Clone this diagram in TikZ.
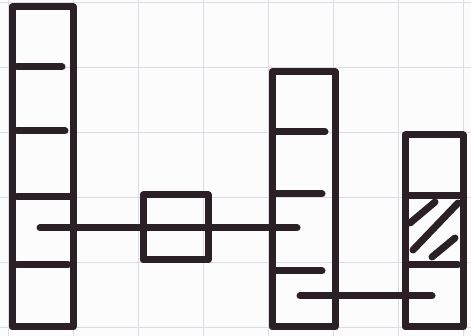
\documentclass[tikz,border=0pt]{standalone}
\begin{document}
\begin{tikzpicture}[x=1pt,y=-1pt,
  ink/.style={draw=inkc,line width=7pt,line cap=round,line join=round},
  barbox/.style={ink,rectangle,inner sep=0pt,outer sep=0pt},
  tick/.style={ink},
  gridl/.style={draw=gridc,line width=0.9pt}]
\definecolor{inkc}{HTML}{2B2026}
\definecolor{gridc}{HTML}{DCDCE4}
\definecolor{paper}{HTML}{FCFCFC}
\fill[paper] (0,0) rectangle (471,336);
\useasboundingbox (0,0) rectangle (471,336);
% grid
\foreach \gx in {8,73,138,203,268,333,398,463} \draw[gridl] (\gx,0) -- (\gx,336);
\foreach \gy in {2,67,132,197,262,327} \draw[gridl] (0,\gy) -- (471,\gy);
% boxes
\node[barbox,minimum width=61pt,minimum height=320pt] (bar1) at (42.5,167) {};
\node[barbox,minimum width=65pt,minimum height=65pt] (box2) at (175.5,227.5) {};
\node[barbox,minimum width=63pt,minimum height=255pt] (bar3) at (303.5,199.5) {};
\node[barbox,minimum width=58pt,minimum height=192pt] (bar4) at (434,231) {};
% ticks bar1
\draw[tick] (17,67) -- (62,67);
\draw[tick] (17,131) -- (65,131);
\draw[tick] (17,197) -- (72,197);
\draw[tick] (17,265) -- (68,265);
% ticks bar3
\draw[tick] (276,132) -- (325,132);
\draw[tick] (276,194) -- (322,194);
\draw[tick] (276,271) -- (322,271);
% ticks bar4
\draw[tick] (409,196) -- (460,196);
\draw[tick] (409,265) -- (458,265);
% hatching
\draw[tick] (410,223) -- (435,202);
\draw[tick] (413,250) -- (458,203);
\draw[tick] (432,257) -- (455,238);
% connectors
\coordinate (c1a) at (40,228);
\coordinate (c1b) at (297,228);
\coordinate (c2a) at (300,296);
\coordinate (c2b) at (432,296);
\draw[ink] (c1a) -- (c1b);
\draw[ink] (c2a) -- (c2b);
\end{tikzpicture}
\end{document}
